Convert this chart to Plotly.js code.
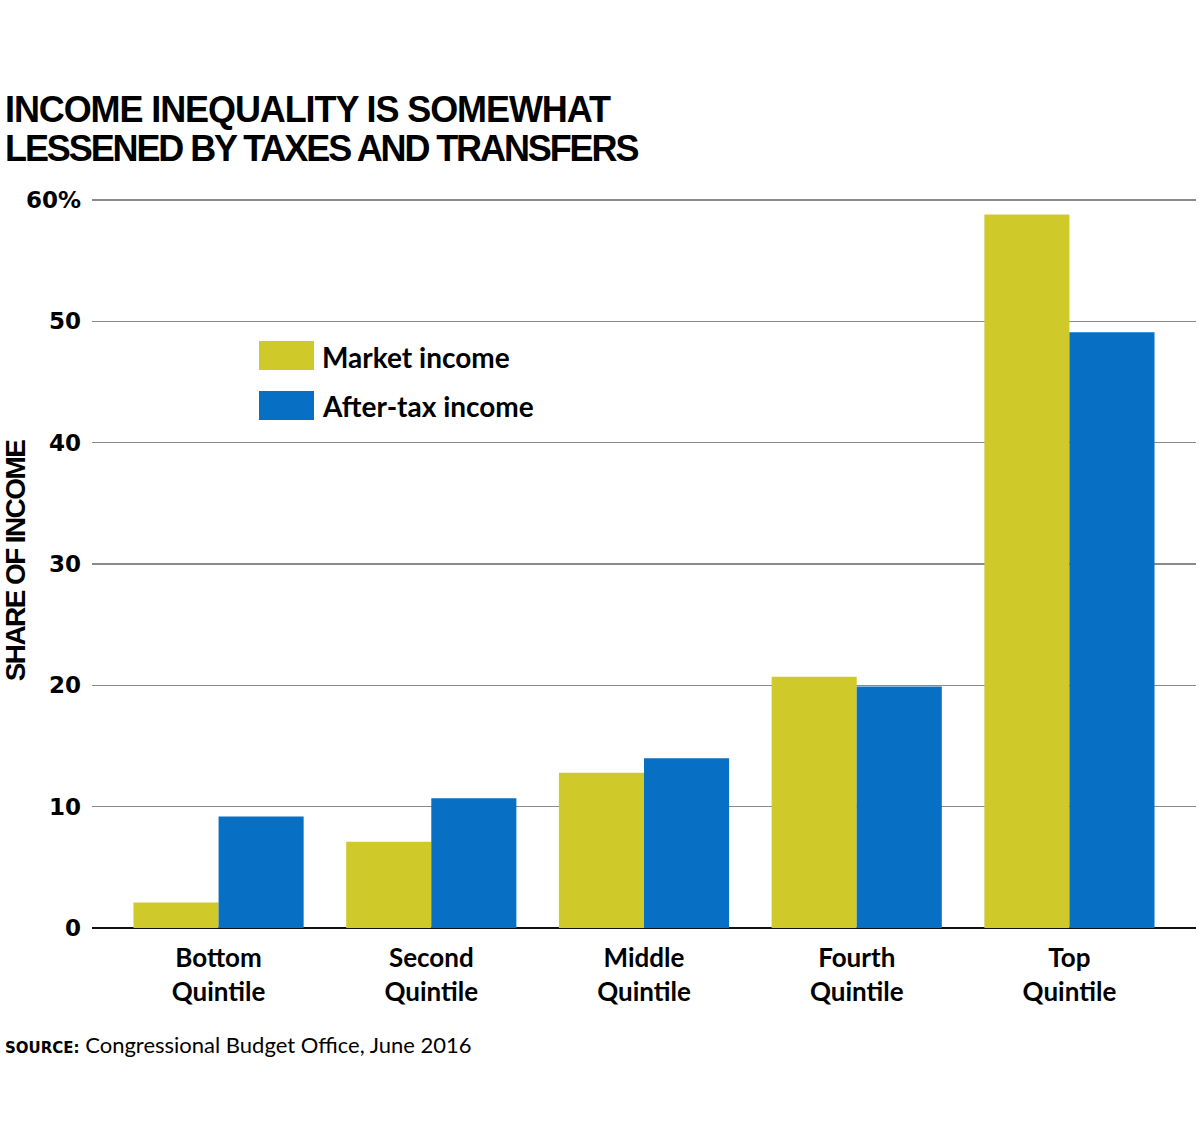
<!DOCTYPE html>
<html>
<head>
<meta charset="utf-8">
<script src="https://cdn.plot.ly/plotly-3.0.1.min.js"></script>
<style>
  html, body { margin: 0; padding: 0; background: #ffffff; }
  #chart { width: 1200px; height: 1145px; }
</style>
</head>
<body>
<div id="chart"></div>
<script>
// ---- data ----
const categories = ["Bottom<br>Quintile", "Second<br>Quintile", "Middle<br>Quintile", "Fourth<br>Quintile", "Top<br>Quintile"];
const seriesNames = ["Market income", "After-tax income"];
const marketIncome = [2.1, 7.1, 12.8, 20.7, 58.8];
const afterTaxIncome = [9.2, 10.7, 14.0, 19.9, 49.1];
const yTickVals = [0, 10, 20, 30, 40, 50, 60];
const yTickText = ["0", "10", "20", "30", "40", "50", "60%"];
const titleLines = ["INCOME INEQUALITY IS SOMEWHAT", "LESSENED BY TAXES AND TRANSFERS"];
const yAxisTitle = "SHARE OF INCOME";
const sourceLabel = "SOURCE:";
const sourceText = "Congressional Budget Office, June 2016";

// ---- styles ----
const colors = ["#D0C92A", "#0870C4"];
const condensed = "'Liberation Sans Narrow', 'Arial Narrow', 'Liberation Sans', sans-serif";
const tickFont = "'DejaVu Sans', Verdana, sans-serif";
const labelFont = "Lato, 'Open Sans', sans-serif";

// pixel -> paper helpers (plot area: x 92..1196, y 194..928)
const L = 92, R = 4, T = 194, B = 217, W = 1200, H = 1145;
const pw = W - L - R, ph = H - T - B;
const px = p => (p - L) / pw;
const py = p => (H - B - p) / ph;

const traces = [
  { type: "bar", name: seriesNames[0], x: categories, y: marketIncome,
    marker: { color: colors[0], line: { width: 0 } }, showlegend: false, hoverinfo: "y" },
  { type: "bar", name: seriesNames[1], x: categories, y: afterTaxIncome,
    marker: { color: colors[1], line: { width: 0 } }, showlegend: false, hoverinfo: "y" }
];

const legendRows = [341, 391];
const shapes = legendRows.map((top, i) => ({
  type: "rect", xref: "paper", yref: "paper",
  x0: px(259), x1: px(314), y0: py(top + 29), y1: py(top),
  fillcolor: colors[i], line: { width: 0 }
}));

const tight = (s, ls) => "<span style=\"letter-spacing:" + ls + "px\">" + s + "</span>";

const annotations = [
  { text: tight(titleLines[0], -1.1), x: px(3), y: py(109), xanchor: "left", yanchor: "middle",
    font: { family: condensed, size: 36, color: "#000", weight: "bold" }, showarrow: false, xref: "paper", yref: "paper" },
  { text: tight(titleLines[1], -2.1), x: px(3), y: py(149), xanchor: "left", yanchor: "middle",
    font: { family: condensed, size: 36, color: "#000", weight: "bold" }, showarrow: false, xref: "paper", yref: "paper" },
  { text: "<b>" + seriesNames[0] + "</b>", x: px(320), y: py(357), xanchor: "left", yanchor: "middle",
    font: { family: labelFont, size: 28, color: "#000" }, showarrow: false, xref: "paper", yref: "paper" },
  { text: "<b>" + seriesNames[1] + "</b>", x: px(320), y: py(406), xanchor: "left", yanchor: "middle",
    font: { family: labelFont, size: 28, color: "#000" }, showarrow: false, xref: "paper", yref: "paper" },
  { text: "<span style=\"font-family:'DejaVu Sans';font-weight:bold;font-size:15px\">" + sourceLabel + "</span> " + sourceText,
    x: px(3), y: py(1044), xanchor: "left", yanchor: "middle",
    font: { family: labelFont, size: 22, color: "#000" }, showarrow: false, xref: "paper", yref: "paper" }
];

const layout = {
  width: W, height: H,
  margin: { l: L, r: R, t: T, b: B },
  paper_bgcolor: "#ffffff", plot_bgcolor: "#ffffff",
  barmode: "group", bargap: 0.2, bargroupgap: 0,
  showlegend: false,
  xaxis: {
    range: [-0.595, 4.595], showgrid: false, showline: false, zeroline: false,
    ticks: "", ticklabelstandoff: 12,
    tickfont: { family: labelFont, size: 26, color: "#000", weight: "bold" }
  },
  yaxis: {
    range: [0, 60.5], tickvals: yTickVals, ticktext: yTickText,
    showgrid: true, gridcolor: "#8a8a8a", gridwidth: 1.2,
    zeroline: true, zerolinecolor: "#111", zerolinewidth: 2.2,
    showline: false, ticks: "", ticklabelstandoff: 10,
    tickfont: { family: tickFont, size: 23, color: "#000", weight: "bold" },
    title: { text: tight(yAxisTitle, -1.6), standoff: 2,
      font: { family: condensed, size: 28, color: "#000", weight: "bold" } }
  },
  shapes: shapes,
  annotations: annotations
};

Plotly.newPlot("chart", traces, layout, { displayModeBar: false, staticPlot: true });
</script>
</body>
</html>
